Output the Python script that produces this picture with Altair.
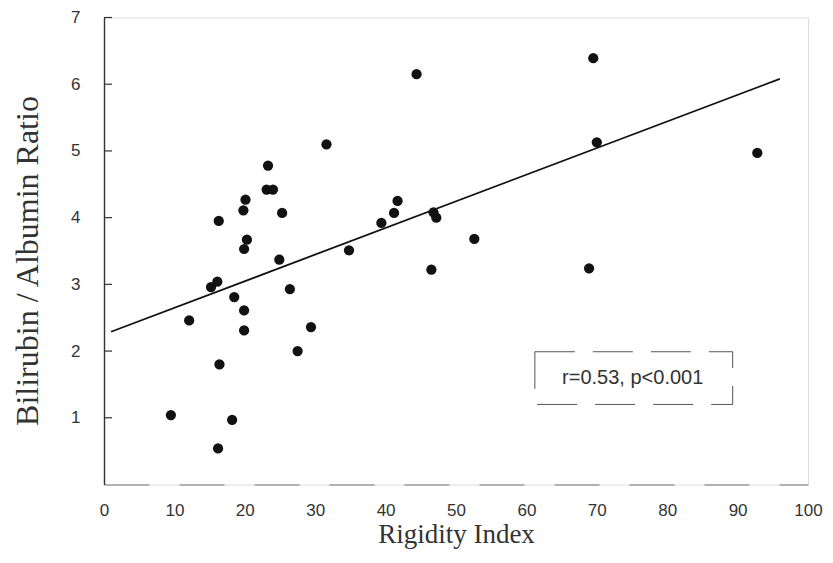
import altair as alt
import pandas as pd

# Scatter data
rigidity = [9.5, 12.1, 15.2, 16.1, 16.3, 16.4, 16.2, 18.2, 18.5, 19.8, 20.1, 20.3,
            19.9, 19.9, 19.9, 23.3, 23.1, 24.0, 24.9, 25.3, 26.4, 27.5, 29.4, 31.6,
            34.8, 39.4, 41.2, 41.7, 44.4, 46.5, 46.8, 47.2, 52.6, 68.9, 69.5, 70.0, 92.8]
ratio = [1.04, 2.46, 2.96, 3.04, 3.95, 1.80, 0.54, 0.97, 2.81, 4.11, 4.27, 3.67,
         3.53, 2.61, 2.31, 4.78, 4.42, 4.42, 3.37, 4.07, 2.93, 2.00, 2.36, 5.10,
         3.51, 3.92, 4.07, 4.25, 6.15, 3.22, 4.08, 4.00, 3.68, 3.24, 6.39, 5.13, 4.97]

# Regression line end points
fit_x = [1.0, 96.0]
fit_y = [2.29, 6.08]

# Annotation
note_text = ["r=0.53, p<0.001"]
note_x = [75.1]
note_y = [1.6]
box_x = [61.2]
box_x2 = [89.3]
box_y = [1.2]
box_y2 = [1.99]

x_ticks = [0, 10, 20, 30, 40, 50, 60, 70, 80, 90, 100]
y_ticks = [1, 2, 3, 4, 5, 6, 7]

pts = pd.DataFrame({"x": rigidity, "y": ratio})
fit = pd.DataFrame({"x": fit_x, "y": fit_y})
note = pd.DataFrame({"x": note_x, "y": note_y, "t": note_text})
box = pd.DataFrame({"x": box_x, "x2": box_x2, "y": box_y, "y2": box_y2})
yt = pd.DataFrame({"y": y_ticks})

xscale = alt.Scale(domain=[0, 100], nice=False, zero=False)
yscale = alt.Scale(domain=[0, 7], nice=False, zero=False)

x_axis = alt.Axis(
    values=x_ticks, ticks=False, grid=False, format="d", labelFlush=False,
    labelFont="Liberation Sans", labelFontSize=17, labelColor="#333",
    labelPadding=18, domainColor="#777", domainDash=[45, 30], domainWidth=1.2,
    title="Rigidity Index", titleFont="Liberation Serif", titleFontSize=27,
    titleFontWeight="normal", titleColor="#333", titleBaseline="alphabetic",
    titleY=58, titleAlign="center")
y_axis = alt.Axis(
    values=y_ticks, ticks=False, grid=False, format="d",
    labelFont="Liberation Sans", labelFontSize=17, labelColor="#333",
    labelPadding=24, domainColor="#333", domainWidth=1.4,
    title="Bilirubin / Albumin Ratio", titleFont="Liberation Serif",
    titleFontSize=32, titleFontWeight="normal", titleColor="#333",
    titleX=-77, titleY=243, titleAlign="center", titleBaseline="middle",
    titleAngle=270)

points = alt.Chart(pts).mark_circle(size=105, color="#111", opacity=1).encode(
    x=alt.X("x:Q", scale=xscale, axis=x_axis),
    y=alt.Y("y:Q", scale=yscale, axis=y_axis),
)

line = alt.Chart(fit).mark_line(color="#111", strokeWidth=1.8).encode(
    x=alt.X("x:Q", scale=xscale), y=alt.Y("y:Q", scale=yscale))

ticks = alt.Chart(yt).mark_rule(color="#333", strokeWidth=1.2).encode(
    y=alt.Y("y:Q", scale=yscale), x=alt.value(0), x2=alt.value(8))

rect = alt.Chart(box).mark_rect(fill="white", stroke="#555", strokeWidth=1,
                                strokeDash=[40, 18]).encode(
    x=alt.X("x:Q", scale=xscale), x2="x2:Q",
    y=alt.Y("y:Q", scale=yscale), y2="y2:Q")

text = alt.Chart(note).mark_text(font="Liberation Sans", fontSize=20,
                                 color="#333", align="center",
                                 baseline="middle").encode(
    x=alt.X("x:Q", scale=xscale), y=alt.Y("y:Q", scale=yscale), text="t:N")

chart = alt.layer(line, points, ticks, rect, text).properties(
    width=704, height=467,
    padding={"left": 96, "top": 9.5, "right": 17, "bottom": 65},
    autosize=alt.AutoSizeParams(type="none"),
).configure_view(strokeWidth=0).configure(background="white")

chart.save("out.html", embed_options={"renderer": "svg", "actions": False})
